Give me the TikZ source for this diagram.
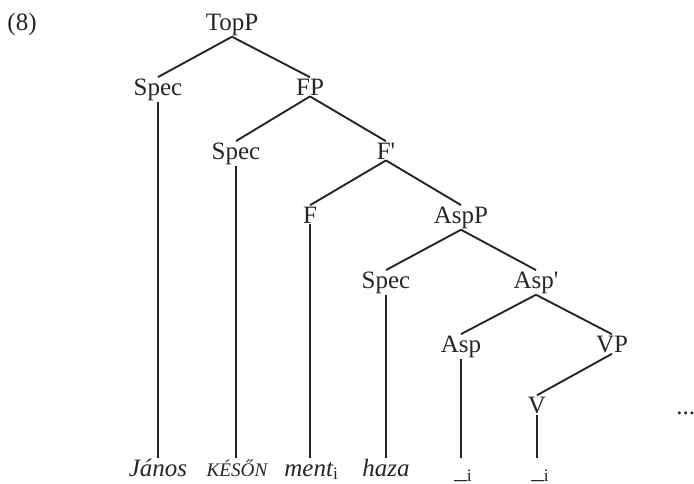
\documentclass[tikz,border=0pt]{standalone}
\usepackage{fontspec}
\setmainfont{Liberation Serif}
\usepackage{tikz}
\usetikzlibrary{positioning,calc}

\tikzset{
  cat/.style={inner sep=0.5pt,anchor=base,text=black!85,font=\fontsize{12.5}{14}\selectfont},
  word/.style={inner sep=0pt,anchor=base,text=black!85,font=\fontsize{12.5}{14}\selectfont\itshape},
  branch/.style={line width=0.95pt,black!85}
}

\begin{document}
\begin{tikzpicture}[x=0.5pt,y=-0.5pt]
        \useasboundingbox (0,0) rectangle (694,483);
        \node[cat] (exnum) at (22,30) {(8)};
        % categories, one row per level
        \node[cat] (topP) at (232,30) {TopP};
        \node[cat] (specA) at (158,95) {Spec};
        \node[cat] (fP) at (310,95) {FP};
        \node[cat] (specB) at (236,159) {Spec};
        \node[cat] (fBar) at (386,159) {F\textquotesingle};
        \node[cat] (fHead) at (310,223) {F};
        \node[cat] (aspP) at (461,223) {AspP};
        \node[cat] (specC) at (386,288) {Spec};
        \node[cat] (aspBar) at (536,288) {Asp\textquotesingle};
        \node[cat] (aspHead) at (461,352) {Asp};
        \node[cat] (vP) at (612,352) {VP};
        \node[cat] (vHead) at (537,413) {V};
        \node[cat,anchor=base west] (dots) at (675,414) {...};
        % terminal string
        \node[word] (janos) at (158,476) {János};
        \node[word] (keson) at (237,476) {\fontsize{9.6}{11}\selectfont KÉSŐN};
        \node[word,anchor=base west] (ment) at (284,476) {ment\textsubscript{\upshape i}};
        \node[word] (haza) at (386,476) {haza};
        \node[cat,anchor=base west] (traceA) at (453,478) {\_\textsubscript{i}};
        \node[cat,anchor=base west] (traceB) at (530,478) {\_\textsubscript{i}};
        % branches
        \draw[branch] (topP.south) -- (specA.north);
        \draw[branch] (topP.south) -- (fP.north);
        \draw[branch] (fP.south) -- (specB.north);
        \draw[branch] (fP.south) -- (fBar.north);
        \draw[branch] (fBar.south) -- (fHead.north);
        \draw[branch] (fBar.south) -- (aspP.north);
        \draw[branch] (aspP.south) -- (specC.north);
        \draw[branch] (aspP.south) -- (aspBar.north);
        \draw[branch] (aspBar.south) -- (aspHead.north);
        \draw[branch] (aspBar.south) -- (vP.north);
        \draw[branch] (vP.south) -- (vHead.north);
        % vertical projections down to the words
        \draw[branch] (specA.south) -- (specA.south |- janos.north);
        \draw[branch] (specB.south) -- (specB.south |- janos.north);
        \draw[branch] (fHead.south) -- (fHead.south |- janos.north);
        \draw[branch] (specC.south) -- (specC.south |- janos.north);
        \draw[branch] (aspHead.south) -- (aspHead.south |- janos.north);
        \draw[branch] (vHead.south) -- (vHead.south |- janos.north);
      \end{tikzpicture}
\end{document}
